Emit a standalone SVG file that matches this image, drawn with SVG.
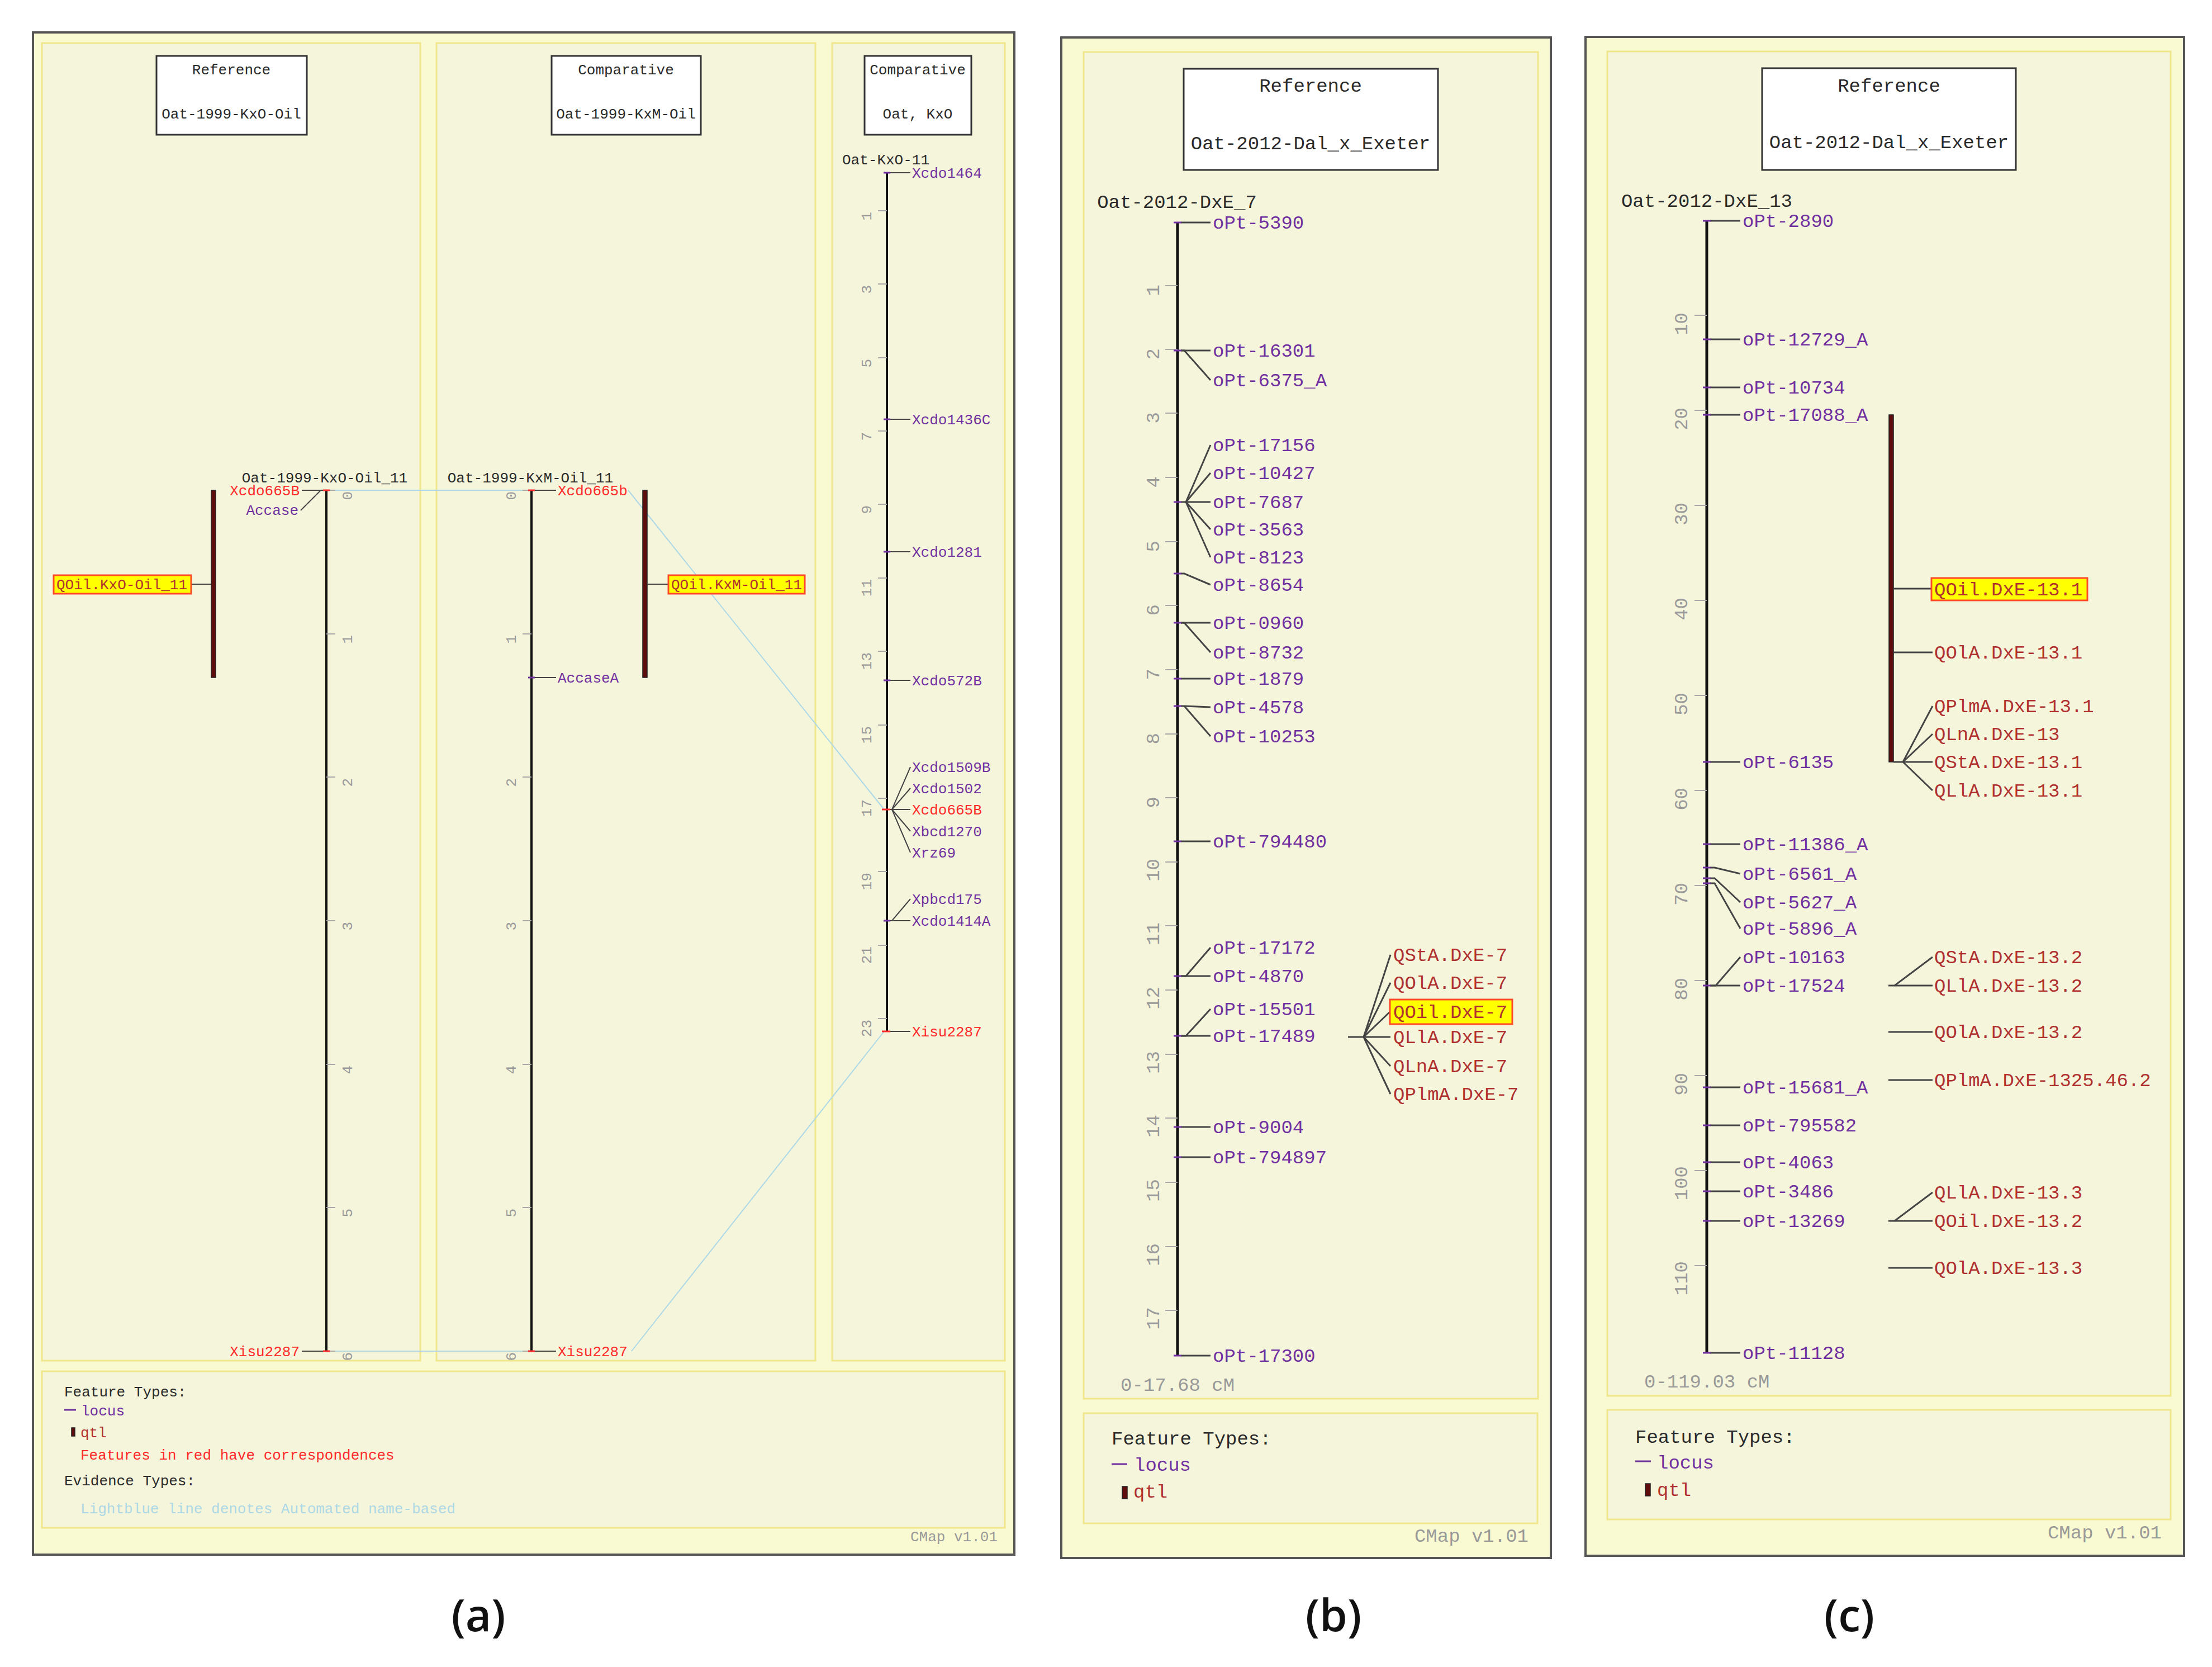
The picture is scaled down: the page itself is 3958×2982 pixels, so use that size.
<svg xmlns="http://www.w3.org/2000/svg" width="3958" height="2982" viewBox="0 0 3958 2982">
<style>
.frame{fill:#fafad2;stroke:#555;stroke-width:4}
.panel{fill:#f5f5dc;stroke:#f0e68c;stroke-width:3}
.hdr{fill:#fff;stroke:#333;stroke-width:3}
text{font-family:"Liberation Mono","DejaVu Sans Mono",monospace}
.s26{font-size:26px}
.s34{font-size:34px}
.dark{fill:#2a2a2a}
.mid{text-anchor:middle}
.end{text-anchor:end}
.tk{fill:#9a9a9a;text-anchor:end}
.loc{fill:#7030a0}
.red{fill:#ff2a2a}
.qt{fill:#b03030}
.gray{fill:#999}
.axis{stroke:#111;stroke-width:4;fill:none}
.axisB{stroke:#111;stroke-width:5;fill:none}
.tick{stroke:#a8a8a8;stroke-width:2}
.ld{stroke:#444;stroke-width:2;fill:none}
.ldB{stroke:#444;stroke-width:3;fill:none}
.gl{stroke:#7030a0;stroke-width:3}
.glr{stroke:#ff2a2a;stroke-width:3}
.corr{stroke:#add8e6;stroke-width:2;fill:none}
.hl{fill:#ffff00;stroke:#ff4a2a;stroke-width:3}
.qbar{fill:#5e0c0c;stroke:#222;stroke-width:1.5}
.fig{font-family:"Open Sans","Liberation Sans",sans-serif;font-size:80px;font-weight:600;fill:#111;text-anchor:middle}
</style>
<rect x="0" y="0" width="3958" height="2982" fill="#fff"/>

<!-- ================= PANEL A ================= -->
<g id="panel-a">
<rect class="frame" x="59" y="58" width="1756" height="2723"/>
<rect class="panel" x="75" y="77" width="677" height="2357"/>
<rect class="panel" x="781" y="77" width="678" height="2357"/>
<rect class="panel" x="1489" y="77" width="309" height="2357"/>
</g>

<g id="a-header1">
<rect class="hdr" x="280" y="100" width="269" height="141"/>
<text class="s26 dark mid" x="414" y="133">Reference</text>
<text class="s26 dark mid" x="414" y="212">Oat-1999-KxO-Oil</text>
</g>
<g id="a-header2">
<rect class="hdr" x="987" y="100" width="267" height="141"/>
<text class="s26 dark mid" x="1120" y="133">Comparative</text>
<text class="s26 dark mid" x="1120" y="212">Oat-1999-KxM-Oil</text>
</g>
<g id="a-header3">
<rect class="hdr" x="1547" y="100" width="191" height="141"/>
<text class="s26 dark mid" x="1642" y="133">Comparative</text>
<text class="s26 dark mid" x="1642" y="212">Oat, KxO</text>
</g>

<g id="connectors">
<line class="corr" x1="590" y1="877" x2="945" y2="877"/>
<line class="corr" x1="590" y1="2417" x2="945" y2="2417"/>
<line class="corr" x1="1124" y1="877" x2="1582" y2="1448"/>
<line class="corr" x1="1130" y1="2417" x2="1582" y2="1845"/>
</g>

<g id="a-map1">
<text class="s26 dark mid" x="581" y="863">Oat-1999-KxO-Oil_11</text>
<line class="axis" x1="584" y1="877" x2="584" y2="2417"/>
<g class="tick">
<line x1="584" y1="877" x2="600" y2="877"/><line x1="584" y1="1134" x2="600" y2="1134"/><line x1="584" y1="1390" x2="600" y2="1390"/><line x1="584" y1="1647" x2="600" y2="1647"/><line x1="584" y1="1904" x2="600" y2="1904"/><line x1="584" y1="2160" x2="600" y2="2160"/><line x1="584" y1="2417" x2="600" y2="2417"/>
</g>
<text class="s26 tk" transform="translate(630,879) rotate(-90)">0</text>
<text class="s26 tk" transform="translate(630,1136) rotate(-90)">1</text>
<text class="s26 tk" transform="translate(630,1392) rotate(-90)">2</text>
<text class="s26 tk" transform="translate(630,1649) rotate(-90)">3</text>
<text class="s26 tk" transform="translate(630,1906) rotate(-90)">4</text>
<text class="s26 tk" transform="translate(630,2162) rotate(-90)">5</text>
<text class="s26 tk" transform="translate(630,2419) rotate(-90)">6</text>
<line class="ld" x1="540" y1="877" x2="578" y2="877"/>
<line class="ld" x1="574" y1="877" x2="538" y2="913"/>
<line class="ld" x1="540" y1="2417" x2="578" y2="2417"/>
<line class="glr" x1="578" y1="877" x2="590" y2="877"/>
<line class="glr" x1="578" y1="2417" x2="590" y2="2417"/>
<text class="s26 red end" x="536" y="886">Xcdo665B</text>
<text class="s26 loc end" x="534" y="921">Accase</text>
<text class="s26 red end" x="536" y="2426">Xisu2287</text>
</g>

<g id="a-qtl1">
<rect class="qbar" x="378" y="877" width="8" height="335"/>
<line class="ld" x1="342" y1="1045" x2="378" y2="1045"/>
<rect class="hl" x="96" y="1029" width="246" height="33"/>
<text class="s26 qt" x="101" y="1054">QOil.KxO-Oil_11</text>
</g>

<g id="a-map2">
<text class="s26 dark mid" x="949" y="863">Oat-1999-KxM-Oil_11</text>
<line class="axis" x1="951" y1="877" x2="951" y2="2417"/>
<g class="tick">
<line x1="935" y1="877" x2="951" y2="877"/><line x1="935" y1="1134" x2="951" y2="1134"/><line x1="935" y1="1390" x2="951" y2="1390"/><line x1="935" y1="1647" x2="951" y2="1647"/><line x1="935" y1="1904" x2="951" y2="1904"/><line x1="935" y1="2160" x2="951" y2="2160"/><line x1="935" y1="2417" x2="951" y2="2417"/>
</g>
<text class="s26 tk" transform="translate(923,879) rotate(-90)">0</text>
<text class="s26 tk" transform="translate(923,1136) rotate(-90)">1</text>
<text class="s26 tk" transform="translate(923,1392) rotate(-90)">2</text>
<text class="s26 tk" transform="translate(923,1649) rotate(-90)">3</text>
<text class="s26 tk" transform="translate(923,1906) rotate(-90)">4</text>
<text class="s26 tk" transform="translate(923,2162) rotate(-90)">5</text>
<text class="s26 tk" transform="translate(923,2419) rotate(-90)">6</text>
<line class="ld" x1="957" y1="877" x2="995" y2="877"/>
<line class="ld" x1="957" y1="1212" x2="995" y2="1212"/>
<line class="ld" x1="957" y1="2417" x2="995" y2="2417"/>
<line class="glr" x1="945" y1="877" x2="957" y2="877"/>
<line class="gl" x1="945" y1="1212" x2="957" y2="1212"/>
<line class="glr" x1="945" y1="2417" x2="957" y2="2417"/>
<text class="s26 red" x="998" y="886">Xcdo665b</text>
<text class="s26 loc" x="998" y="1221">AccaseA</text>
<text class="s26 red" x="998" y="2426">Xisu2287</text>
</g>

<g id="a-qtl2">
<rect class="qbar" x="1150" y="877" width="8" height="335"/>
<line class="ld" x1="1158" y1="1045" x2="1196" y2="1045"/>
<rect class="hl" x="1196" y="1029" width="244" height="33"/>
<text class="s26 qt" x="1201" y="1054">QOil.KxM-Oil_11</text>
</g>

<g id="a-map3">
<text class="s26 dark mid" x="1585" y="294">Oat-KxO-11</text>
<line class="axis" x1="1587" y1="309" x2="1587" y2="1845"/>
<g class="tick">
<line x1="1571" y1="377" x2="1587" y2="377"/><line x1="1571" y1="508" x2="1587" y2="508"/><line x1="1571" y1="640" x2="1587" y2="640"/><line x1="1571" y1="771" x2="1587" y2="771"/><line x1="1571" y1="902" x2="1587" y2="902"/><line x1="1571" y1="1034" x2="1587" y2="1034"/><line x1="1571" y1="1165" x2="1587" y2="1165"/><line x1="1571" y1="1297" x2="1587" y2="1297"/><line x1="1571" y1="1428" x2="1587" y2="1428"/><line x1="1571" y1="1559" x2="1587" y2="1559"/><line x1="1571" y1="1691" x2="1587" y2="1691"/><line x1="1571" y1="1822" x2="1587" y2="1822"/>
</g>
<text class="s26 tk" transform="translate(1559,379) rotate(-90)">1</text>
<text class="s26 tk" transform="translate(1559,510) rotate(-90)">3</text>
<text class="s26 tk" transform="translate(1559,642) rotate(-90)">5</text>
<text class="s26 tk" transform="translate(1559,773) rotate(-90)">7</text>
<text class="s26 tk" transform="translate(1559,904) rotate(-90)">9</text>
<text class="s26 tk" transform="translate(1559,1036) rotate(-90)">11</text>
<text class="s26 tk" transform="translate(1559,1167) rotate(-90)">13</text>
<text class="s26 tk" transform="translate(1559,1299) rotate(-90)">15</text>
<text class="s26 tk" transform="translate(1559,1430) rotate(-90)">17</text>
<text class="s26 tk" transform="translate(1559,1561) rotate(-90)">19</text>
<text class="s26 tk" transform="translate(1559,1693) rotate(-90)">21</text>
<text class="s26 tk" transform="translate(1559,1824) rotate(-90)">23</text>
<g class="ld">
<line x1="1593" y1="309" x2="1629" y2="309"/>
<line x1="1593" y1="750" x2="1629" y2="750"/>
<line x1="1593" y1="987" x2="1629" y2="987"/>
<line x1="1593" y1="1217" x2="1629" y2="1217"/>
<polyline points="1587,1448 1596,1448 1629,1372"/>
<polyline points="1596,1448 1629,1410"/>
<polyline points="1596,1448 1629,1448"/>
<polyline points="1596,1448 1629,1487"/>
<polyline points="1596,1448 1629,1525"/>
<polyline points="1587,1647 1596,1647 1629,1608"/>
<polyline points="1596,1647 1629,1647"/>
<line x1="1593" y1="1845" x2="1629" y2="1845"/>
</g>
<line class="gl" x1="1581" y1="309" x2="1593" y2="309"/>
<line class="gl" x1="1581" y1="750" x2="1593" y2="750"/>
<line class="gl" x1="1581" y1="987" x2="1593" y2="987"/>
<line class="gl" x1="1581" y1="1217" x2="1593" y2="1217"/>
<line class="glr" x1="1578" y1="1448" x2="1593" y2="1448"/>
<line class="gl" x1="1581" y1="1647" x2="1593" y2="1647"/>
<line class="glr" x1="1578" y1="1845" x2="1593" y2="1845"/>
<text class="s26 loc" x="1632" y="318">Xcdo1464</text>
<text class="s26 loc" x="1632" y="759">Xcdo1436C</text>
<text class="s26 loc" x="1632" y="996">Xcdo1281</text>
<text class="s26 loc" x="1632" y="1226">Xcdo572B</text>
<text class="s26 loc" x="1632" y="1381">Xcdo1509B</text>
<text class="s26 loc" x="1632" y="1419">Xcdo1502</text>
<text class="s26 red" x="1632" y="1457">Xcdo665B</text>
<text class="s26 loc" x="1632" y="1496">Xbcd1270</text>
<text class="s26 loc" x="1632" y="1534">Xrz69</text>
<text class="s26 loc" x="1632" y="1617">Xpbcd175</text>
<text class="s26 loc" x="1632" y="1656">Xcdo1414A</text>
<text class="s26 red" x="1632" y="1854">Xisu2287</text>
</g>

<g id="a-legend">
<rect class="panel" x="75" y="2453" width="1723" height="280"/>
<text class="s26 dark" x="115" y="2498">Feature Types:</text>
<line class="gl" x1="115" y1="2522" x2="136" y2="2522"/>
<text class="s26 loc" x="145" y="2532">locus</text>
<rect class="qbar" x="128" y="2554" width="6" height="15"/>
<text class="s26 qt" x="144" y="2571">qtl</text>
<text class="s26 red" x="144" y="2611">Features in red have correspondences</text>
<text class="s26 dark" x="115" y="2657">Evidence Types:</text>
<text class="s26" fill="#add8e6" x="144" y="2707">Lightblue line denotes Automated name-based</text>
<text class="s26 gray end" x="1785" y="2757">CMap v1.01</text>
</g>

<!-- ================= PANEL B ================= -->
<g id="panel-b">
<rect class="frame" x="1899" y="67" width="876" height="2720"/>
<rect class="panel" x="1939" y="93" width="813" height="2409"/>
</g>
<g id="b-header">
<rect class="hdr" x="2118" y="123" width="455" height="181"/>
<text class="s34 dark mid" x="2345" y="164">Reference</text>
<text class="s34 dark mid" x="2345" y="267">Oat-2012-Dal_x_Exeter</text>
</g>
<g id="b-map">
<text class="s34 dark mid" x="2106" y="372">Oat-2012-DxE_7</text>
<line class="axisB" x1="2107" y1="398" x2="2107" y2="2425"/>
<g class="tick">
<line x1="2085" y1="511" x2="2107" y2="511"/><line x1="2085" y1="625" x2="2107" y2="625"/><line x1="2085" y1="739" x2="2107" y2="739"/><line x1="2085" y1="854" x2="2107" y2="854"/><line x1="2085" y1="969" x2="2107" y2="969"/><line x1="2085" y1="1083" x2="2107" y2="1083"/><line x1="2085" y1="1198" x2="2107" y2="1198"/><line x1="2085" y1="1313" x2="2107" y2="1313"/><line x1="2085" y1="1427" x2="2107" y2="1427"/><line x1="2085" y1="1542" x2="2107" y2="1542"/><line x1="2085" y1="1656" x2="2107" y2="1656"/><line x1="2085" y1="1771" x2="2107" y2="1771"/><line x1="2085" y1="1886" x2="2107" y2="1886"/><line x1="2085" y1="2000" x2="2107" y2="2000"/><line x1="2085" y1="2115" x2="2107" y2="2115"/><line x1="2085" y1="2230" x2="2107" y2="2230"/><line x1="2085" y1="2344" x2="2107" y2="2344"/>
</g>
<text class="s34 tk" transform="translate(2074,509) rotate(-90)">1</text>
<text class="s34 tk" transform="translate(2074,623) rotate(-90)">2</text>
<text class="s34 tk" transform="translate(2074,737) rotate(-90)">3</text>
<text class="s34 tk" transform="translate(2074,852) rotate(-90)">4</text>
<text class="s34 tk" transform="translate(2074,967) rotate(-90)">5</text>
<text class="s34 tk" transform="translate(2074,1081) rotate(-90)">6</text>
<text class="s34 tk" transform="translate(2074,1196) rotate(-90)">7</text>
<text class="s34 tk" transform="translate(2074,1311) rotate(-90)">8</text>
<text class="s34 tk" transform="translate(2074,1425) rotate(-90)">9</text>
<text class="s34 tk" transform="translate(2074,1536) rotate(-90)">10</text>
<text class="s34 tk" transform="translate(2074,1650) rotate(-90)">11</text>
<text class="s34 tk" transform="translate(2074,1765) rotate(-90)">12</text>
<text class="s34 tk" transform="translate(2074,1880) rotate(-90)">13</text>
<text class="s34 tk" transform="translate(2074,1994) rotate(-90)">14</text>
<text class="s34 tk" transform="translate(2074,2109) rotate(-90)">15</text>
<text class="s34 tk" transform="translate(2074,2224) rotate(-90)">16</text>
<text class="s34 tk" transform="translate(2074,2338) rotate(-90)">17</text>
<g class="ldB">
<line x1="2113" y1="398" x2="2166" y2="398"/>
<line x1="2113" y1="627" x2="2166" y2="627"/>
<polyline points="2113,627 2119,627 2166,680"/>
<polyline points="2113,898 2122,898 2166,796"/>
<polyline points="2122,898 2166,846"/>
<polyline points="2122,898 2166,898"/>
<polyline points="2122,898 2166,947"/>
<polyline points="2122,898 2166,997"/>
<polyline points="2113,1026 2119,1026 2166,1046"/>
<line x1="2113" y1="1114" x2="2166" y2="1114"/>
<polyline points="2113,1114 2119,1114 2166,1167"/>
<line x1="2113" y1="1214" x2="2166" y2="1214"/>
<polyline points="2113,1263 2119,1263 2166,1265"/>
<polyline points="2119,1263 2166,1317"/>
<line x1="2113" y1="1505" x2="2166" y2="1505"/>
<polyline points="2113,1746 2122,1746 2166,1695"/>
<line x1="2113" y1="1746" x2="2166" y2="1746"/>
<polyline points="2113,1853 2122,1853 2166,1805"/>
<line x1="2113" y1="1853" x2="2166" y2="1853"/>
<line x1="2113" y1="2016" x2="2166" y2="2016"/>
<line x1="2113" y1="2070" x2="2166" y2="2070"/>
<line x1="2113" y1="2425" x2="2166" y2="2425"/>
</g>
<g class="gl">
<line x1="2100" y1="398" x2="2114" y2="398"/><line x1="2100" y1="627" x2="2114" y2="627"/><line x1="2100" y1="898" x2="2114" y2="898"/><line x1="2100" y1="1026" x2="2114" y2="1026"/><line x1="2100" y1="1114" x2="2114" y2="1114"/><line x1="2100" y1="1214" x2="2114" y2="1214"/><line x1="2100" y1="1263" x2="2114" y2="1263"/><line x1="2100" y1="1505" x2="2114" y2="1505"/><line x1="2100" y1="1746" x2="2114" y2="1746"/><line x1="2100" y1="1853" x2="2114" y2="1853"/><line x1="2100" y1="2016" x2="2114" y2="2016"/><line x1="2100" y1="2070" x2="2114" y2="2070"/><line x1="2100" y1="2425" x2="2114" y2="2425"/>
</g>
<text class="s34 loc" x="2170" y="409">oPt-5390</text>
<text class="s34 loc" x="2170" y="638">oPt-16301</text>
<text class="s34 loc" x="2170" y="691">oPt-6375_A</text>
<text class="s34 loc" x="2170" y="807">oPt-17156</text>
<text class="s34 loc" x="2170" y="857">oPt-10427</text>
<text class="s34 loc" x="2170" y="909">oPt-7687</text>
<text class="s34 loc" x="2170" y="958">oPt-3563</text>
<text class="s34 loc" x="2170" y="1008">oPt-8123</text>
<text class="s34 loc" x="2170" y="1057">oPt-8654</text>
<text class="s34 loc" x="2170" y="1125">oPt-0960</text>
<text class="s34 loc" x="2170" y="1178">oPt-8732</text>
<text class="s34 loc" x="2170" y="1225">oPt-1879</text>
<text class="s34 loc" x="2170" y="1276">oPt-4578</text>
<text class="s34 loc" x="2170" y="1328">oPt-10253</text>
<text class="s34 loc" x="2170" y="1516">oPt-794480</text>
<text class="s34 loc" x="2170" y="1706">oPt-17172</text>
<text class="s34 loc" x="2170" y="1757">oPt-4870</text>
<text class="s34 loc" x="2170" y="1816">oPt-15501</text>
<text class="s34 loc" x="2170" y="1864">oPt-17489</text>
<text class="s34 loc" x="2170" y="2027">oPt-9004</text>
<text class="s34 loc" x="2170" y="2081">oPt-794897</text>
<text class="s34 loc" x="2170" y="2436">oPt-17300</text>
<text class="s34 gray" x="2005" y="2488">0-17.68 cM</text>
</g>
<g id="b-qtl">
<g class="ldB">
<line x1="2412" y1="1855" x2="2440" y2="1855"/>
<line x1="2440" y1="1855" x2="2488" y2="1708"/>
<line x1="2440" y1="1855" x2="2488" y2="1758"/>
<line x1="2440" y1="1855" x2="2487" y2="1810"/>
<line x1="2440" y1="1855" x2="2488" y2="1855"/>
<line x1="2440" y1="1855" x2="2488" y2="1907"/>
<line x1="2440" y1="1855" x2="2488" y2="1957"/>
</g>
<rect class="hl" x="2487" y="1788" width="219" height="44"/>
<text class="s34 qt" x="2493" y="1719">QStA.DxE-7</text>
<text class="s34 qt" x="2493" y="1769">QOlA.DxE-7</text>
<text class="s34 qt" x="2493" y="1821">QOil.DxE-7</text>
<text class="s34 qt" x="2493" y="1866">QLlA.DxE-7</text>
<text class="s34 qt" x="2493" y="1918">QLnA.DxE-7</text>
<text class="s34 qt" x="2493" y="1968">QPlmA.DxE-7</text>
</g>
<g id="b-legend">
<rect class="panel" x="1939" y="2528" width="812" height="197"/>
<text class="s34 dark" x="1989" y="2584">Feature Types:</text>
<line class="gl" x1="1989" y1="2619" x2="2017" y2="2619"/>
<text class="s34 loc" x="2029" y="2631">locus</text>
<rect class="qbar" x="2008" y="2659" width="9" height="22"/>
<text class="s34 qt" x="2028" y="2679">qtl</text>
<text class="s34 gray end" x="2735" y="2758">CMap v1.01</text>
</g>

<!-- ================= PANEL C ================= -->
<g id="panel-c">
<rect class="frame" x="2837" y="66" width="1071" height="2717"/>
<rect class="panel" x="2876" y="92" width="1008" height="2405"/>
</g>
<g id="c-header">
<rect class="hdr" x="3153" y="122" width="454" height="182"/>
<text class="s34 dark mid" x="3380" y="164">Reference</text>
<text class="s34 dark mid" x="3380" y="265">Oat-2012-Dal_x_Exeter</text>
</g>
<g id="c-map">
<text class="s34 dark mid" x="3054" y="370">Oat-2012-DxE_13</text>
<line class="axisB" x1="3054" y1="395" x2="3054" y2="2420"/>
<g class="tick">
<line x1="3032" y1="564" x2="3054" y2="564"/><line x1="3032" y1="734" x2="3054" y2="734"/><line x1="3032" y1="904" x2="3054" y2="904"/><line x1="3032" y1="1074" x2="3054" y2="1074"/><line x1="3032" y1="1244" x2="3054" y2="1244"/><line x1="3032" y1="1414" x2="3054" y2="1414"/><line x1="3032" y1="1584" x2="3054" y2="1584"/><line x1="3032" y1="1754" x2="3054" y2="1754"/><line x1="3032" y1="1924" x2="3054" y2="1924"/><line x1="3032" y1="2094" x2="3054" y2="2094"/><line x1="3032" y1="2264" x2="3054" y2="2264"/>
</g>
<text class="s34 tk" transform="translate(3019,559) rotate(-90)">10</text>
<text class="s34 tk" transform="translate(3019,729) rotate(-90)">20</text>
<text class="s34 tk" transform="translate(3019,899) rotate(-90)">30</text>
<text class="s34 tk" transform="translate(3019,1069) rotate(-90)">40</text>
<text class="s34 tk" transform="translate(3019,1239) rotate(-90)">50</text>
<text class="s34 tk" transform="translate(3019,1409) rotate(-90)">60</text>
<text class="s34 tk" transform="translate(3019,1579) rotate(-90)">70</text>
<text class="s34 tk" transform="translate(3019,1749) rotate(-90)">80</text>
<text class="s34 tk" transform="translate(3019,1919) rotate(-90)">90</text>
<text class="s34 tk" transform="translate(3019,2086) rotate(-90)">100</text>
<text class="s34 tk" transform="translate(3019,2256) rotate(-90)">110</text>
<g class="ldB">
<line x1="3060" y1="395" x2="3114" y2="395"/>
<line x1="3060" y1="607" x2="3114" y2="607"/>
<line x1="3060" y1="693" x2="3114" y2="693"/>
<line x1="3060" y1="742" x2="3114" y2="742"/>
<line x1="3060" y1="1363" x2="3114" y2="1363"/>
<line x1="3060" y1="1510" x2="3114" y2="1510"/>
<polyline points="3060,1552 3068,1552 3114,1563"/>
<polyline points="3060,1571 3068,1571 3114,1614"/>
<polyline points="3060,1580 3068,1580 3114,1661"/>
<polyline points="3060,1763 3070,1763 3114,1712"/>
<line x1="3060" y1="1763" x2="3114" y2="1763"/>
<line x1="3060" y1="1945" x2="3114" y2="1945"/>
<line x1="3060" y1="2013" x2="3114" y2="2013"/>
<line x1="3060" y1="2079" x2="3114" y2="2079"/>
<line x1="3060" y1="2131" x2="3114" y2="2131"/>
<line x1="3060" y1="2184" x2="3114" y2="2184"/>
<line x1="3060" y1="2420" x2="3114" y2="2420"/>
</g>
<g class="gl">
<line x1="3047" y1="395" x2="3061" y2="395"/><line x1="3047" y1="607" x2="3061" y2="607"/><line x1="3047" y1="693" x2="3061" y2="693"/><line x1="3047" y1="742" x2="3061" y2="742"/><line x1="3047" y1="1363" x2="3061" y2="1363"/><line x1="3047" y1="1510" x2="3061" y2="1510"/><line x1="3047" y1="1552" x2="3061" y2="1552"/><line x1="3047" y1="1571" x2="3061" y2="1571"/><line x1="3047" y1="1580" x2="3061" y2="1580"/><line x1="3047" y1="1763" x2="3061" y2="1763"/><line x1="3047" y1="1945" x2="3061" y2="1945"/><line x1="3047" y1="2013" x2="3061" y2="2013"/><line x1="3047" y1="2079" x2="3061" y2="2079"/><line x1="3047" y1="2131" x2="3061" y2="2131"/><line x1="3047" y1="2184" x2="3061" y2="2184"/><line x1="3047" y1="2420" x2="3061" y2="2420"/>
</g>
<text class="s34 loc" x="3118" y="406">oPt-2890</text>
<text class="s34 loc" x="3118" y="618">oPt-12729_A</text>
<text class="s34 loc" x="3118" y="704">oPt-10734</text>
<text class="s34 loc" x="3118" y="753">oPt-17088_A</text>
<text class="s34 loc" x="3118" y="1374">oPt-6135</text>
<text class="s34 loc" x="3118" y="1521">oPt-11386_A</text>
<text class="s34 loc" x="3118" y="1574">oPt-6561_A</text>
<text class="s34 loc" x="3118" y="1625">oPt-5627_A</text>
<text class="s34 loc" x="3118" y="1672">oPt-5896_A</text>
<text class="s34 loc" x="3118" y="1723">oPt-10163</text>
<text class="s34 loc" x="3118" y="1774">oPt-17524</text>
<text class="s34 loc" x="3118" y="1956">oPt-15681_A</text>
<text class="s34 loc" x="3118" y="2024">oPt-795582</text>
<text class="s34 loc" x="3118" y="2090">oPt-4063</text>
<text class="s34 loc" x="3118" y="2142">oPt-3486</text>
<text class="s34 loc" x="3118" y="2195">oPt-13269</text>
<text class="s34 loc" x="3118" y="2431">oPt-11128</text>
<text class="s34 gray" x="2942" y="2482">0-119.03 cM</text>
</g>
<g id="c-qtl">
<rect class="qbar" x="3380" y="742" width="8" height="621"/>
<g class="ldB">
<line x1="3388" y1="1053" x2="3456" y2="1053"/>
<line x1="3388" y1="1167" x2="3458" y2="1167"/>
<polyline points="3388,1363 3405,1363 3458,1263"/>
<line x1="3405" y1="1363" x2="3458" y2="1313"/>
<line x1="3405" y1="1363" x2="3458" y2="1363"/>
<line x1="3405" y1="1363" x2="3458" y2="1414"/>
<polyline points="3379,1763 3390,1763 3458,1712"/>
<line x1="3390" y1="1763" x2="3458" y2="1763"/>
<line x1="3379" y1="1846" x2="3458" y2="1846"/>
<line x1="3379" y1="1932" x2="3458" y2="1932"/>
<polyline points="3379,2184 3390,2184 3458,2133"/>
<line x1="3390" y1="2184" x2="3458" y2="2184"/>
<line x1="3379" y1="2268" x2="3458" y2="2268"/>
</g>
<rect class="hl" x="3456" y="1034" width="279" height="40"/>
<text class="s34 qt" x="3461" y="1065">QOil.DxE-13.1</text>
<text class="s34 qt" x="3461" y="1178">QOlA.DxE-13.1</text>
<text class="s34 qt" x="3461" y="1274">QPlmA.DxE-13.1</text>
<text class="s34 qt" x="3461" y="1324">QLnA.DxE-13</text>
<text class="s34 qt" x="3461" y="1374">QStA.DxE-13.1</text>
<text class="s34 qt" x="3461" y="1425">QLlA.DxE-13.1</text>
<text class="s34 qt" x="3461" y="1723">QStA.DxE-13.2</text>
<text class="s34 qt" x="3461" y="1774">QLlA.DxE-13.2</text>
<text class="s34 qt" x="3461" y="1857">QOlA.DxE-13.2</text>
<text class="s34 qt" x="3461" y="1943">QPlmA.DxE-1325.46.2</text>
<text class="s34 qt" x="3461" y="2144">QLlA.DxE-13.3</text>
<text class="s34 qt" x="3461" y="2195">QOil.DxE-13.2</text>
<text class="s34 qt" x="3461" y="2279">QOlA.DxE-13.3</text>
</g>
<g id="c-legend">
<rect class="panel" x="2876" y="2522" width="1008" height="196"/>
<text class="s34 dark" x="2926" y="2581">Feature Types:</text>
<line class="gl" x1="2926" y1="2614" x2="2954" y2="2614"/>
<text class="s34 loc" x="2965" y="2627">locus</text>
<rect class="qbar" x="2944" y="2654" width="9" height="22"/>
<text class="s34 qt" x="2965" y="2676">qtl</text>
<text class="s34 gray end" x="3868" y="2752">CMap v1.01</text>
</g>

<g id="figure-labels">
<text class="fig" x="856" y="2918">(a)</text>
<text class="fig" x="2386" y="2918">(b)</text>
<text class="fig" x="3309" y="2918">(c)</text>
</g>
</svg>
